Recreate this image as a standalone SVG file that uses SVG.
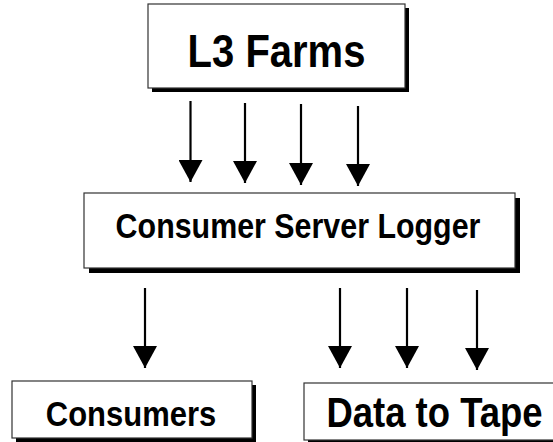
<svg xmlns="http://www.w3.org/2000/svg" width="553" height="442" viewBox="0 0 553 442">
<defs>
<marker id="ah" markerUnits="userSpaceOnUse" markerWidth="24" markerHeight="24" refX="22" refY="12" orient="auto">
<path d="M0,0 L22,12 L0,24 Z" fill="#000"/>
</marker>
<style>
.box{fill:#fff;stroke:#333;stroke-width:1.2}
.sh{fill:#000}
.t{font-family:"Liberation Sans",Arial,sans-serif;font-weight:bold;fill:#000;text-anchor:middle}
.c{stroke:#000;stroke-width:2.2;fill:none;marker-end:url(#ah)}
</style>
</defs>
<rect width="553" height="442" fill="#fff"/>
<g id="l3farms">
<rect class="sh" x="152" y="8" width="257" height="84"/>
<rect class="box" x="148" y="4" width="257" height="84"/>
<text class="t" font-size="40" transform="translate(276.5,67) scale(1,1.15)">L3 Farms</text>
</g>
<g id="csl">
<rect class="sh" x="89" y="198" width="431" height="75"/>
<rect class="box" x="84" y="193" width="431" height="75"/>
<text class="t" font-size="30.4" transform="translate(298,238) scale(1,1.18)">Consumer Server Logger</text>
</g>
<g id="consumers">
<rect class="sh" x="16" y="385" width="240" height="57"/>
<rect class="box" x="12" y="381" width="240" height="57"/>
<text class="t" font-size="31" transform="translate(131,426) scale(1,1.15)">Consumers</text>
</g>
<g id="datatotape">
<rect class="sh" x="308" y="387" width="260" height="57"/>
<rect class="box" x="304" y="383" width="260" height="57"/>
<text class="t" font-size="36.5" transform="translate(434.5,427) scale(1,1.18)">Data to Tape</text>
</g>
<g id="connectors">
<path class="c" d="M190.5,101 V182"/>
<path class="c" d="M245,103 V183"/>
<path class="c" d="M301,104 V185"/>
<path class="c" d="M358,106 V186"/>
<path class="c" d="M145,288 V368"/>
<path class="c" d="M340,288 V368"/>
<path class="c" d="M407,288 V368"/>
<path class="c" d="M477,290 V370"/>
</g>
</svg>
